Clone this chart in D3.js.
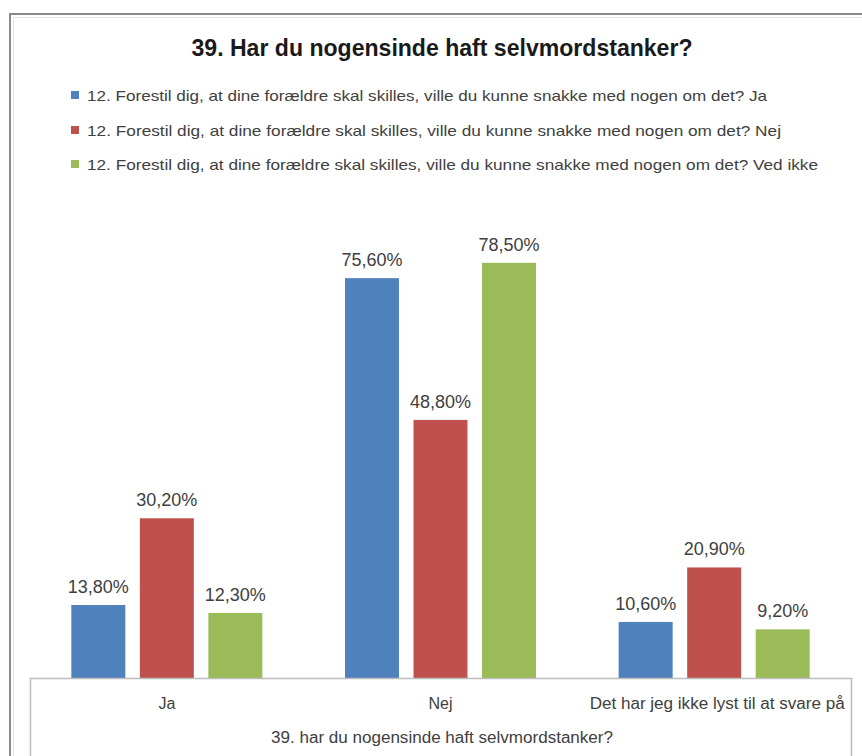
<!DOCTYPE html>
<html>
<head>
<meta charset="utf-8">
<script src="https://cdn.jsdelivr.net/npm/d3@7"></script>
<style>
  html, body { margin: 0; padding: 0; background: #ffffff; }
  svg { display: block; }
</style>
</head>
<body>
<svg id="chart" width="862" height="756"></svg>
<script>
// ---- data ----
const chartTitle = "39. Har du nogensinde haft selvmordstanker?";
const axisTitle = "39. har du nogensinde haft selvmordstanker?";
const categories = ["Ja", "Nej", "Det har jeg ikke lyst til at svare på"];
const seriesNames = [
  "12. Forestil dig, at dine forældre skal skilles, ville du kunne snakke med nogen om det? Ja",
  "12. Forestil dig, at dine forældre skal skilles, ville du kunne snakke med nogen om det? Nej",
  "12. Forestil dig, at dine forældre skal skilles, ville du kunne snakke med nogen om det? Ved ikke"
];
const seriesJa = [13.8, 75.6, 10.6];
const seriesNej = [30.2, 48.8, 20.9];
const seriesVedIkke = [12.3, 78.5, 9.2];
const seriesColors = ["#4F81BD", "#C0504D", "#9BBB59"];

// ---- layout ----
const svg = d3.select("#chart");
const FONT = "'Liberation Sans Narrow', 'Arial Narrow', 'Liberation Sans', Arial, sans-serif";
const plotLeft = 30, plotRight = 851, baseY = 678;

// outer frame
svg.append("path")
  .attr("d", "M10,757 L10,14 L863,14")
  .attr("fill", "none").attr("stroke", "#8a8a8a").attr("stroke-width", 2);
svg.append("path")
  .attr("d", "M13.5,757 L13.5,17.5 L863,17.5")
  .attr("fill", "none").attr("stroke", "#e4e4e4").attr("stroke-width", 1);

function fitText(sel, width) {
  sel.attr("textLength", width).attr("lengthAdjust", "spacingAndGlyphs");
}

// title
const t = svg.append("text")
  .attr("x", 442).attr("y", 56)
  .attr("text-anchor", "middle")
  .attr("font-family", FONT).attr("font-weight", "bold")
  .attr("font-size", 24).attr("fill", "#1a1a1a")
  .text(chartTitle);
fitText(t, 501);

// legend
const legendBaselines = [101, 136, 170];
const legendWidths = [680, 694, 731];
seriesNames.forEach((name, i) => {
  svg.append("rect")
    .attr("x", 71).attr("y", legendBaselines[i] - 10)
    .attr("width", 8).attr("height", 8)
    .attr("fill", seriesColors[i]);
  const lt = svg.append("text")
    .attr("x", 87).attr("y", legendBaselines[i])
    .attr("font-family", FONT).attr("font-size", 15)
    .attr("fill", "#404040")
    .text(name);
  fitText(lt, legendWidths[i]);
});

// scales
const x0 = d3.scaleBand().domain(categories)
  .range([plotLeft, plotRight]).paddingInner(0.302).paddingOuter(0.151);
const x1 = d3.scaleBand().domain(d3.range(3))
  .range([0, x0.bandwidth()]).paddingInner(0.212).paddingOuter(0);
const y = d3.scaleLinear().domain([0, 90]).range([baseY, 202]);

const allSeries = [seriesJa, seriesNej, seriesVedIkke];
const fmt = v => d3.format(".2f")(v).replace(".", ",") + "%";

const groups = svg.append("g").selectAll("g")
  .data(categories).join("g")
  .attr("transform", d => `translate(${x0(d)},0)`);

groups.each(function(cat, ci) {
  const g = d3.select(this);
  allSeries.forEach((vals, si) => {
    const v = vals[ci];
    g.append("rect")
      .attr("x", x1(si)).attr("y", y(v))
      .attr("width", x1.bandwidth()).attr("height", baseY - y(v))
      .attr("fill", seriesColors[si]);
    g.append("text")
      .attr("x", x1(si) + x1.bandwidth() / 2)
      .attr("y", y(v) - 12)
      .attr("text-anchor", "middle")
      .attr("font-family", FONT).attr("font-size", 18)
      .attr("fill", "#404040")
      .text(fmt(v));
  });
});

// axis box
const axisG = svg.append("g");
axisG.append("path")
  .attr("d", `M${plotLeft + 0.5},757 L${plotLeft + 0.5},${baseY + 0.5} L${plotRight + 0.5},${baseY + 0.5} L${plotRight + 0.5},757`)
  .attr("fill", "none").attr("stroke", "#bdbdbd").attr("stroke-width", 1.5);

const xAxis = d3.axisBottom(x0).tickSize(0).tickPadding(0);
const ax = svg.append("g").attr("transform", `translate(0,${baseY})`).call(xAxis);
ax.select(".domain").remove();
ax.selectAll("text")
  .attr("y", 31).attr("dy", null)
  .attr("font-family", FONT).attr("font-size", 16)
  .attr("fill", "#404040");
ax.selectAll(".tick").filter(d => d === categories[2])
  .select("text").attr("x", 3).each(function() { fitText(d3.select(this), 255); });

const at = svg.append("text")
  .attr("x", 442).attr("y", 743)
  .attr("text-anchor", "middle")
  .attr("font-family", FONT).attr("font-size", 16)
  .attr("fill", "#404040")
  .text(axisTitle);
fitText(at, 342);
</script>
</body>
</html>
